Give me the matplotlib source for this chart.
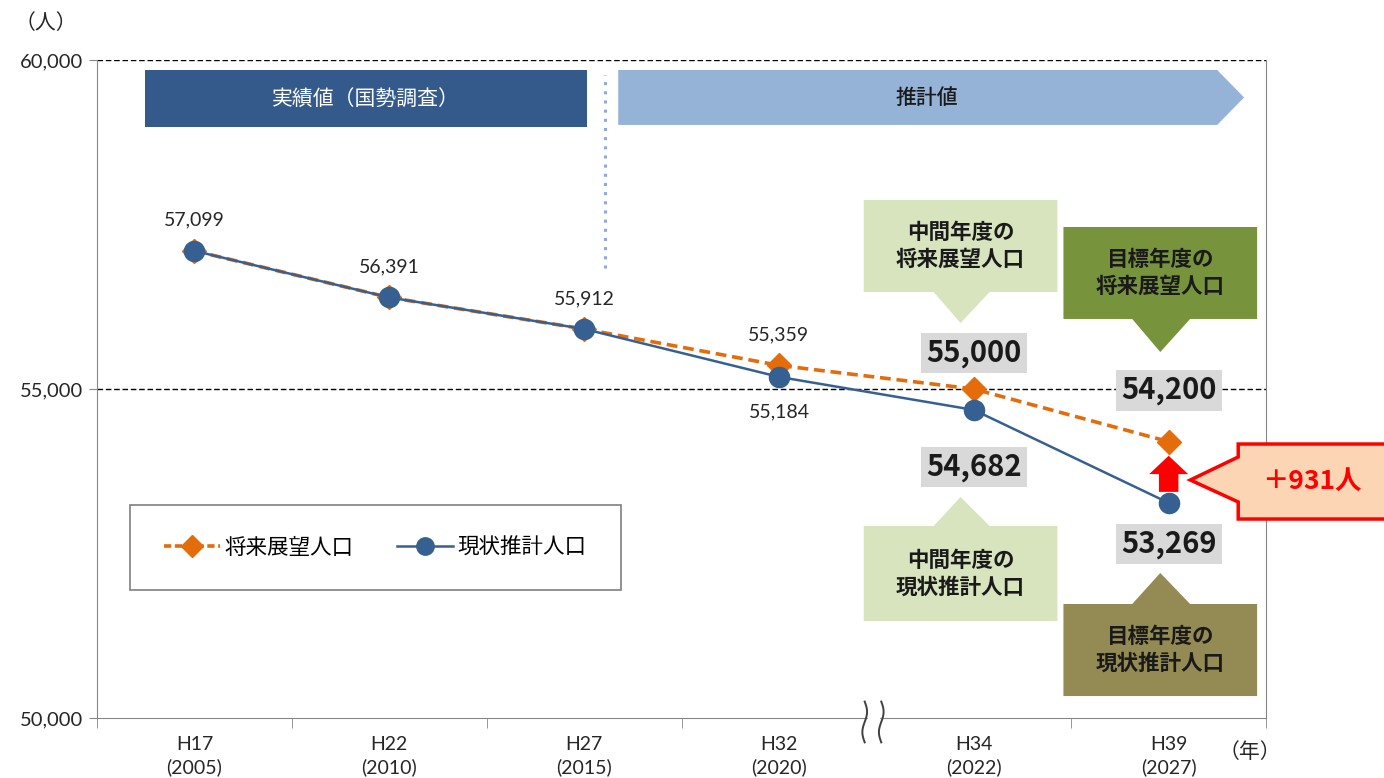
import matplotlib.pyplot as plt
from matplotlib.patches import Polygon, Rectangle
from matplotlib.lines import Line2D
import numpy as np

plt.rcParams['font.family'] = ['Lato', 'Noto Sans CJK JP', 'DejaVu Sans']

# Data
years = ['H17\n(2005)', 'H22\n(2010)', 'H27\n(2015)', 'H32\n(2020)', 'H34\n(2022)', 'H39\n(2027)']
future = [57099, 56391, 55912, 55359, 55000, 54200]   # 将来展望人口
current = [57099, 56391, 55912, 55184, 54682, 53269]  # 現状推計人口

orange = '#E46C0A'
blue = '#376092'
cjk = ['Noto Sans CJK JP', 'DejaVu Sans']

fig = plt.figure(figsize=(13.84, 7.78), dpi=100)
ax = fig.add_axes([0.0701, 0.0771, 0.8447, 0.8458])
x = np.arange(len(years))

ax.set_xlim(-0.5, 5.5)
ax.set_ylim(50000, 60000)

# grid lines at 55,000 and 60,000
for g in [55000, 60000]:
    ax.axhline(g, color='black', lw=1, ls=(0, (4, 2)), zorder=1)

ax.plot(x, future, color=orange, lw=2.6, ls=(0, (3, 1.6)), marker='D', ms=12.5,
        mec=orange, zorder=4, label='将来展望人口')
ax.plot(x, current, color=blue, lw=1.8, marker='o', ms=14.5, zorder=5,
        label='現状推計人口')

# spines / ticks
ax.spines['top'].set_visible(False)
for s in ['left', 'right', 'bottom']:
    ax.spines[s].set_color('#868686')
ax.set_yticks([50000, 55000, 60000])
ax.set_yticklabels(['{:,}'.format(v) for v in [50000, 55000, 60000]], fontsize=14.5,
                   color='#262626')
ax.tick_params(axis='y', length=6, color='#868686', pad=4)
ax.set_xticks(x)
ax.set_xticklabels(years, fontsize=14, linespacing=1.35, color='#262626')
ax.tick_params(axis='x', length=0, pad=13)
ax.set_xticks([-0.5, 0.5, 1.5, 2.5, 4.5, 5.5], minor=True)
ax.tick_params(axis='x', which='minor', length=7, color='#868686')

# axis break marks
t = np.linspace(0, 1, 50)
for xb in [3.44, 3.525]:
    ax.plot(xb + 0.012 * np.sin(2 * np.pi * t), 0.025 - 0.062 * t, color='#404040',
            lw=1.4, transform=ax.get_xaxis_transform(), clip_on=False, zorder=6)
ax.add_patch(Rectangle((3.455, -0.005), 0.06, 0.01, transform=ax.get_xaxis_transform(),
                       color='white', clip_on=False, zorder=5))

# small data labels
for i in range(4):
    ax.annotate('{:,}'.format(future[i]), (x[i], future[i]), xytext=(0, 22),
                textcoords='offset points', ha='center', va='center', fontsize=14,
                color='#262626')
ax.annotate('{:,}'.format(current[3]), (x[3], current[3]), xytext=(0, -25),
            textcoords='offset points', ha='center', va='center', fontsize=14,
            color='#262626')

# big gray value labels
big = [(4, future[4], 26), (5, future[5], 37), (4, current[4], -41), (5, current[5], -29.5)]
for i, v, dy in big:
    ax.annotate('{:,}'.format(v), (x[i], v), xytext=(0, dy), textcoords='offset points',
                ha='center', va='center', fontsize=21, fontweight='bold',
                family=cjk, color='#1a1a1a', zorder=7,
                bbox=dict(boxstyle='square,pad=0.18', fc='#D9D9D9', ec='none'))


def callout(x0, x1, y0, y1, bx0, bx1, tx, ty, color, text, tcolor='#1a1a1a'):
    if ty < y0:
        pts = [(x0, y1), (x1, y1), (x1, y0), (bx1, y0), (tx, ty), (bx0, y0), (x0, y0)]
    else:
        pts = [(x0, y0), (x0, y1), (bx0, y1), (tx, ty), (bx1, y1), (x1, y1), (x1, y0)]
    ax.add_patch(Polygon(pts, closed=True, fc=color, ec='none', zorder=3, clip_on=False))
    ax.text((x0 + x1) / 2, (y0 + y1) / 2, text, ha='center', va='center', fontsize=15.5,
            fontweight='bold', family=cjk, color=tcolor, linespacing=1.35, zorder=4)


callout(3.435, 4.429, 56474, 57873, 3.794, 4.081, 3.932, 56003, '#D7E4BD', '中間年度の\n将来展望人口')
callout(3.435, 4.429, 51474, 52918, 3.794, 4.081, 3.932, 53359, '#D7E4BD', '中間年度の\n現状推計人口')
callout(4.46, 5.454, 56064, 57462, 4.813, 5.11, 4.957, 55562, '#77933C', '目標年度の\n将来展望人口')
callout(4.46, 5.454, 50334, 51733, 4.813, 5.11, 4.957, 52204, '#948A54', '目標年度の\n現状推計人口')

# red arrow between the two series in the target year
gap = future[-1] - current[-1]
cx = x[-1]
y_lo = current[-1] + 0.18 * gap
y_hb = current[-1] + 0.47 * gap
y_tip = current[-1] + 0.77 * gap
ax.add_patch(Polygon([(cx - 0.05, y_lo), (cx + 0.05, y_lo), (cx + 0.05, y_hb), (cx + 0.1, y_hb),
                      (cx, y_tip), (cx - 0.1, y_hb), (cx - 0.05, y_hb)],
                     closed=True, fc='#FF0000', ec='none', zorder=6))

# +931人 callout
ax.add_patch(Polygon([(5.357, 54164), (6.2, 54164), (6.2, 53024), (5.357, 53024),
                      (5.357, 53283), (5.111, 53617), (5.357, 53967)],
                     closed=True, fc='#FCD5B5', ec='#FF0000', lw=2.5, zorder=6, clip_on=False))
ax.text(5.736, 53600, '＋{}人'.format(gap), ha='center', va='center', fontsize=19,
        fontweight='bold', family=cjk, color='#FF0000', zorder=7, clip_on=False)

# header banners
ax.add_patch(Rectangle((-0.254, 58982), 2.27, 866, fc='#345A8C', ec='none', zorder=2))
ax.text(0.88, 59415, '実績値（国勢調査）', ha='center', va='center', fontsize=15,
        color='white', family=cjk, zorder=3)
ax.add_patch(Polygon([(2.175, 59848), (5.249, 59848), (5.387, 59430), (5.249, 59013),
                      (2.175, 59013)], closed=True, fc='#95B3D7', ec='none', zorder=2))
ax.text(3.758, 59415, '推計値', ha='center', va='center', fontsize=15, fontweight='medium',
        color='#1a1a1a', family=cjk, zorder=3)
ax.plot([2.108, 2.108], [56839, 59772], color='#8EA9DB', lw=2.2, ls=(0, (1, 2)), zorder=2)

# legend
ax.add_patch(Rectangle((0.028, 0.1945), 0.42, 0.129, transform=ax.transAxes,
                       fc='white', ec='#7f7f7f', lw=1.2, zorder=6))
handles = [Line2D([], [], color=orange, lw=2.6, ls=(0, (2, 1)), marker='D', ms=11),
           Line2D([], [], color=blue, lw=1.8, marker='o', ms=12.5)]
leg = ax.legend(handles, ['将来展望人口', '現状推計人口'], loc='center',
                bbox_to_anchor=(0.238, 0.259), ncol=2, frameon=False,
                prop={'family': cjk, 'size': 15.5}, handlelength=2.6, handletextpad=0.2,
                columnspacing=2.0)
leg.set_zorder(7)

fig.text(0.033, 0.97, '（人）', ha='center', va='center', fontsize=15, family=cjk,
         color='#262626')
fig.text(0.903, 0.034, '（年）', ha='center', va='center', fontsize=15, family=cjk,
         color='#262626')

fig.savefig('out.png', dpi=100)
